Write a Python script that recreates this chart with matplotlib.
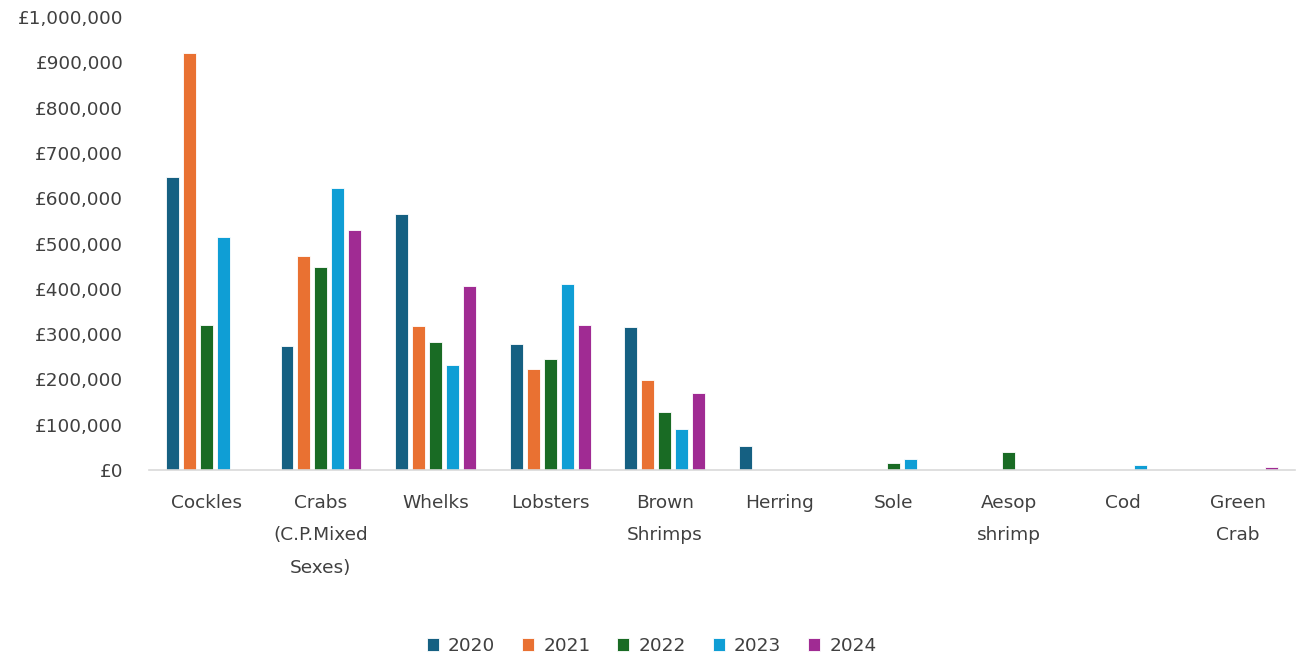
import numpy as np
import matplotlib.pyplot as plt
from matplotlib.ticker import FuncFormatter

# Species and landed value (GBP) per year
species = ["Cockles", "Crabs\n(C.P.Mixed\nSexes)", "Whelks", "Lobsters", "Brown\nShrimps",
           "Herring", "Sole", "Aesop\nshrimp", "Cod", "Green\nCrab"]
years = ["2020", "2021", "2022", "2023", "2024"]

value_2020 = [647000, 274000, 566000, 279000, 316000, 54000, 0, 0, 0, 0]
value_2021 = [920000, 472000, 317000, 222000, 198000, 0, 0, 0, 0, 0]
value_2022 = [321000, 448000, 283000, 246000, 128000, 0, 16000, 39000, 0, 0]
value_2023 = [515000, 622000, 232000, 410000, 91000, 0, 25000, 0, 11000, 0]
value_2024 = [0, 529000, 406000, 321000, 171000, 0, 0, 0, 0, 6000]

series = [value_2020, value_2021, value_2022, value_2023, value_2024]
colors = ["#156082", "#E97132", "#196B24", "#0F9ED5", "#A02B93"]

plt.rcParams['font.family'] = ['DejaVu Sans']
text_color = "#404040"
fs = 13.3

fig = plt.figure(figsize=(12.98, 6.57), dpi=100)
ax = fig.add_axes([0.1148, 0.2846, 0.8829, 0.6894])

x = np.arange(len(species))
pitch = 0.148
width = 0.113
for i, (vals, c, yr) in enumerate(zip(series, colors, years)):
    offs = (i - 2) * pitch
    ax.bar(x + offs, vals, width=width, color=c, edgecolor="white", linewidth=0.6, label=yr)

ax.set_xlim(-0.5, len(species) - 0.5)
ax.set_ylim(0, 1000000)
ax.set_yticks(np.arange(0, 1000001, 100000))
ax.yaxis.set_major_formatter(FuncFormatter(lambda v, p: "£{:,.0f}".format(v)))

ax.set_xticks(x)
ax.set_xticklabels(species, linespacing=2.05, va="top")

for s in ["top", "right", "left"]:
    ax.spines[s].set_visible(False)
ax.spines["bottom"].set_color("#d9d9d9")
ax.spines["bottom"].set_linewidth(1.2)

ax.tick_params(axis="y", length=0, pad=18.5, labelsize=fs, labelcolor=text_color)
ax.tick_params(axis="x", length=0, pad=17, labelsize=fs, labelcolor=text_color)

fig.legend(loc="lower center", bbox_to_anchor=(0.502, -0.022), ncol=5, frameon=False,
           fontsize=fs, labelcolor=text_color, handlelength=0.65, handleheight=0.65,
           handletextpad=0.5, columnspacing=1.45)

fig.savefig("out.png", dpi=100, facecolor="white")
